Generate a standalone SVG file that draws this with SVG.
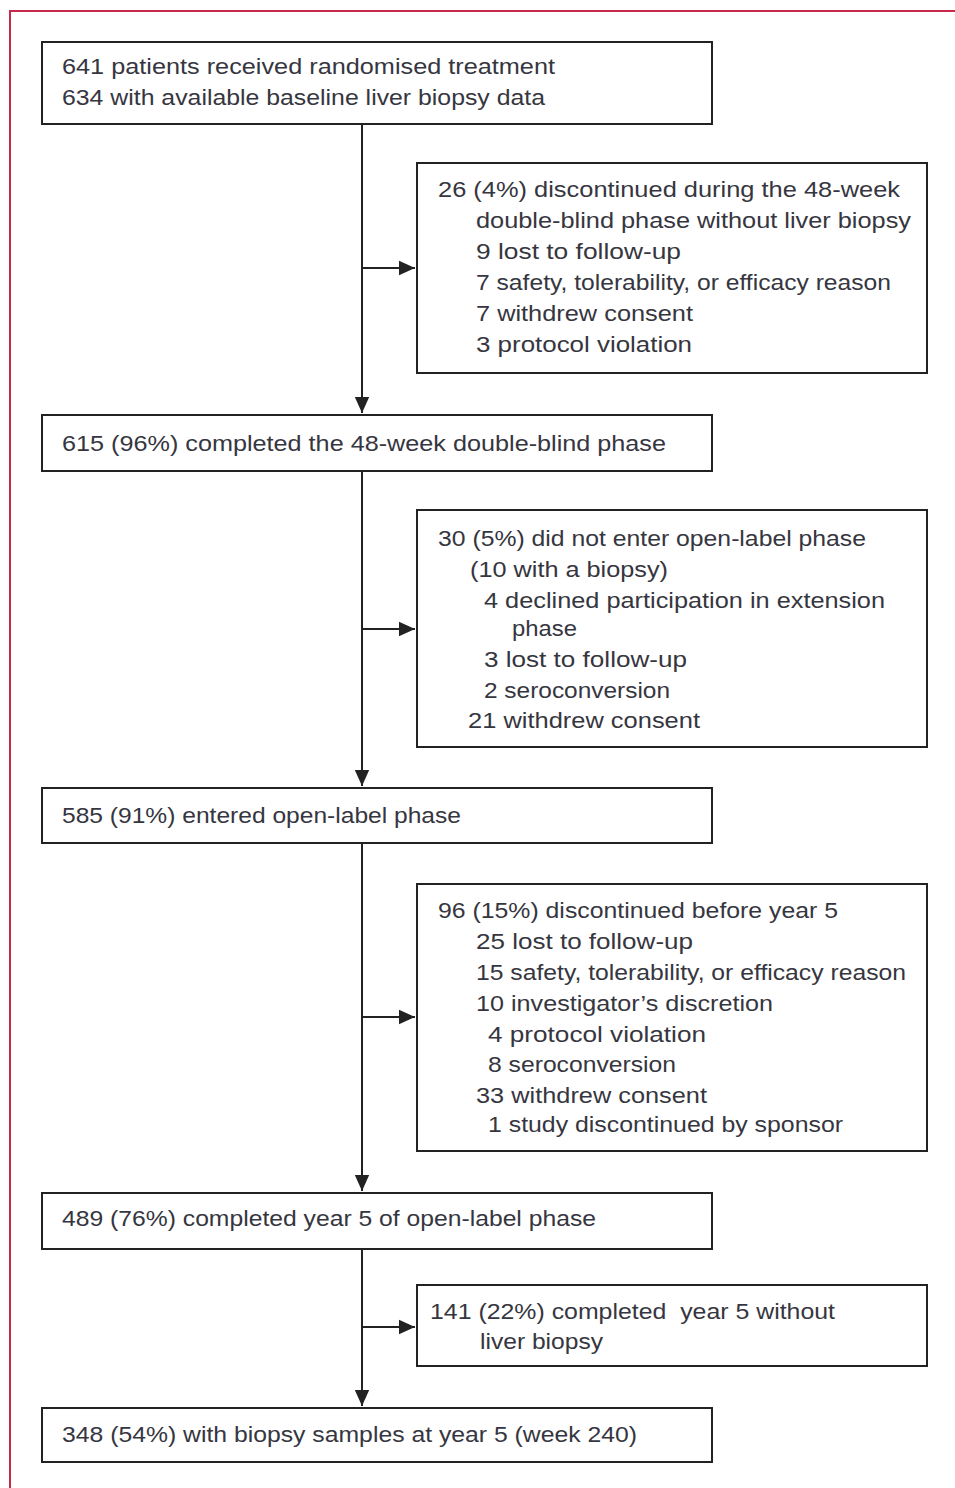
<svg xmlns="http://www.w3.org/2000/svg" width="955" height="1488" viewBox="0 0 955 1488">
<style>
.box{fill:#fff;stroke:#222;stroke-width:2}
.t{font-family:"Liberation Sans","Open Sans",sans-serif;font-size:22px;fill:#363640}
.ln{stroke:#222;stroke-width:2;fill:none}
</style>
<defs>
<marker id="ah" viewBox="0 0 10 10" refX="10" refY="5" markerWidth="9" markerHeight="9" markerUnits="userSpaceOnUse" orient="auto">
<path d="M0,0 L10,5 L0,10 z" fill="#222"/>
</marker>
<marker id="a" viewBox="0 0 10 10" refX="10" refY="5" markerWidth="16" markerHeight="16" markerUnits="userSpaceOnUse" orient="auto">
<path d="M0,0.5 L10,5 L0,9.5 z" fill="#222"/>
</marker>
</defs>
<rect width="955" height="1488" fill="#fff"/>
<path d="M10,1488 V11 H955" fill="none" stroke="#c8284a" stroke-width="2"/>
<g id="connectors">
<line class="ln" x1="362" y1="124" x2="362" y2="413" marker-end="url(#a)"/>
<line class="ln" x1="362" y1="268" x2="415" y2="268" marker-end="url(#a)"/>
<line class="ln" x1="362" y1="471" x2="362" y2="786" marker-end="url(#a)"/>
<line class="ln" x1="362" y1="629" x2="415" y2="629" marker-end="url(#a)"/>
<line class="ln" x1="362" y1="843" x2="362" y2="1191" marker-end="url(#a)"/>
<line class="ln" x1="362" y1="1017" x2="415" y2="1017" marker-end="url(#a)"/>
<line class="ln" x1="362" y1="1249" x2="362" y2="1406" marker-end="url(#a)"/>
<line class="ln" x1="362" y1="1327" x2="415" y2="1327" marker-end="url(#a)"/>
</g>
<g id="n1">
<rect class="box" x="42" y="42" width="670" height="82"/>
<text class="t" x="62" y="74" textLength="493" lengthAdjust="spacingAndGlyphs">641 patients received randomised treatment</text>
<text class="t" x="62" y="105" textLength="483" lengthAdjust="spacingAndGlyphs">634 with available baseline liver biopsy data</text>
</g>
<g id="n2">
<rect class="box" x="417" y="163" width="510" height="210"/>
<text class="t" x="438" y="197" textLength="462" lengthAdjust="spacingAndGlyphs">26 (4%) discontinued during the 48-week</text>
<text class="t" x="476" y="228" textLength="435" lengthAdjust="spacingAndGlyphs">double-blind phase without liver biopsy</text>
<text class="t" x="476" y="259" textLength="205" lengthAdjust="spacingAndGlyphs">9 lost to follow-up</text>
<text class="t" x="476" y="290" textLength="415" lengthAdjust="spacingAndGlyphs">7 safety, tolerability, or efficacy reason</text>
<text class="t" x="476" y="321" textLength="217" lengthAdjust="spacingAndGlyphs">7 withdrew consent</text>
<text class="t" x="476" y="352" textLength="216" lengthAdjust="spacingAndGlyphs">3 protocol violation</text>
</g>
<g id="n3">
<rect class="box" x="42" y="415" width="670" height="56"/>
<text class="t" x="62" y="451" textLength="604" lengthAdjust="spacingAndGlyphs">615 (96%) completed the 48-week double-blind phase</text>
</g>
<g id="n4">
<rect class="box" x="417" y="510" width="510" height="237"/>
<text class="t" x="438" y="546" textLength="428" lengthAdjust="spacingAndGlyphs">30 (5%) did not enter open-label phase</text>
<text class="t" x="470" y="577" textLength="198" lengthAdjust="spacingAndGlyphs">(10 with a biopsy)</text>
<text class="t" x="484" y="608" textLength="401" lengthAdjust="spacingAndGlyphs">4 declined participation in extension</text>
<text class="t" x="512" y="636" textLength="65" lengthAdjust="spacingAndGlyphs">phase</text>
<text class="t" x="484" y="667" textLength="203" lengthAdjust="spacingAndGlyphs">3 lost to follow-up</text>
<text class="t" x="484" y="698" textLength="186" lengthAdjust="spacingAndGlyphs">2 seroconversion</text>
<text class="t" x="468" y="728" textLength="232" lengthAdjust="spacingAndGlyphs">21 withdrew consent</text>
</g>
<g id="n5">
<rect class="box" x="42" y="788" width="670" height="55"/>
<text class="t" x="62" y="823" textLength="399" lengthAdjust="spacingAndGlyphs">585 (91%) entered open-label phase</text>
</g>
<g id="n6">
<rect class="box" x="417" y="884" width="510" height="267"/>
<text class="t" x="438" y="918" textLength="400" lengthAdjust="spacingAndGlyphs">96 (15%) discontinued before year 5</text>
<text class="t" x="476" y="949" textLength="217" lengthAdjust="spacingAndGlyphs">25 lost to follow-up</text>
<text class="t" x="476" y="980" textLength="430" lengthAdjust="spacingAndGlyphs">15 safety, tolerability, or efficacy reason</text>
<text class="t" x="476" y="1011" textLength="297" lengthAdjust="spacingAndGlyphs">10 investigator’s discretion</text>
<text class="t" x="488" y="1042" textLength="218" lengthAdjust="spacingAndGlyphs">4 protocol violation</text>
<text class="t" x="488" y="1072" textLength="188" lengthAdjust="spacingAndGlyphs">8 seroconversion</text>
<text class="t" x="476" y="1103" textLength="231" lengthAdjust="spacingAndGlyphs">33 withdrew consent</text>
<text class="t" x="488" y="1132" textLength="355" lengthAdjust="spacingAndGlyphs">1 study discontinued by sponsor</text>
</g>
<g id="n7">
<rect class="box" x="42" y="1193" width="670" height="56"/>
<text class="t" x="62" y="1226" textLength="534" lengthAdjust="spacingAndGlyphs">489 (76%) completed year 5 of open-label phase</text>
</g>
<g id="n8">
<rect class="box" x="417" y="1285" width="510" height="81"/>
<text class="t" x="430" y="1319" textLength="405" lengthAdjust="spacingAndGlyphs" xml:space="preserve">141 (22%) completed  year 5 without</text>
<text class="t" x="480" y="1349" textLength="123" lengthAdjust="spacingAndGlyphs">liver biopsy</text>
</g>
<g id="n9">
<rect class="box" x="42" y="1408" width="670" height="54"/>
<text class="t" x="62" y="1442" textLength="575" lengthAdjust="spacingAndGlyphs">348 (54%) with biopsy samples at year 5 (week 240)</text>
</g>
</svg>
